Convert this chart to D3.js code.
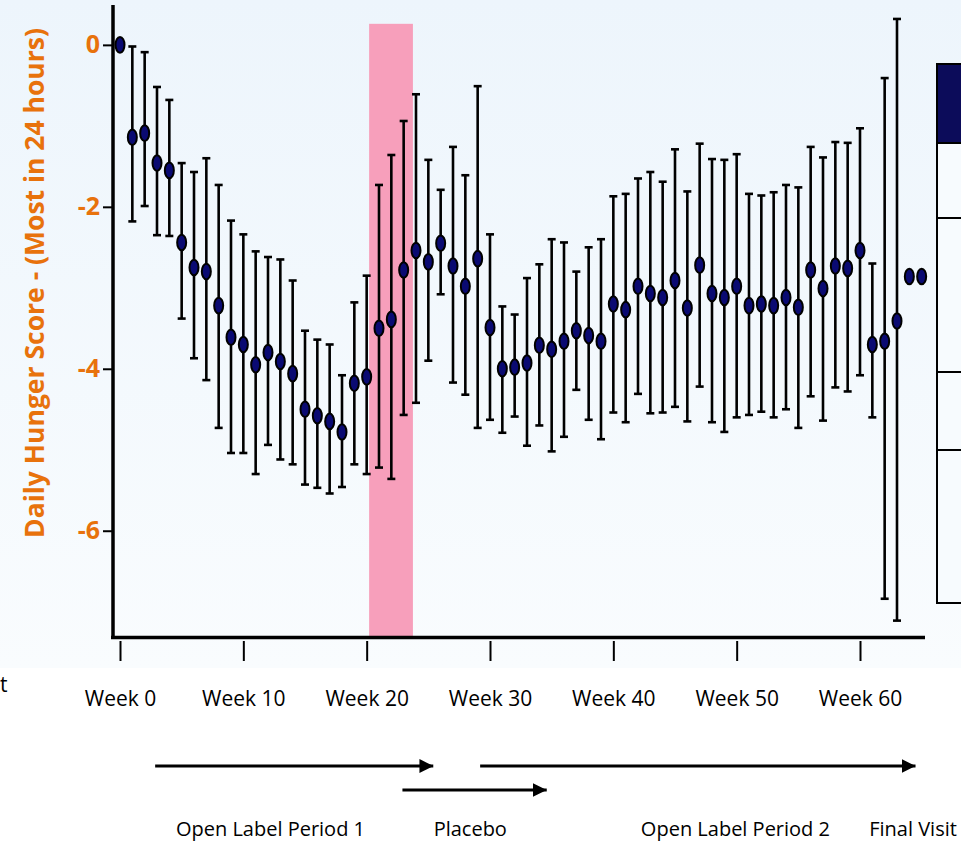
<!DOCTYPE html>
<html>
<head>
<meta charset="utf-8">
<script src="https://cdn.jsdelivr.net/npm/d3@7"></script>
<style>
  body { margin: 0; background: #ffffff; }
  svg { display: block; }
</style>
</head>
<body>
<script>
// weekly hunger score, mean with upper / lower error bar ends
let weeks = [0, 1, 2, 3, 4, 5, 6, 7, 8, 9,
  10, 11, 12, 13, 14, 15, 16, 17, 18, 19,
  20, 21, 22, 23, 24, 25, 26, 27, 28, 29,
  30, 31, 32, 33, 34, 35, 36, 37, 38, 39,
  40, 41, 42, 43, 44, 45, 46, 47, 48, 49,
  50, 51, 52, 53, 54, 55, 56, 57, 58, 59,
  60, 61, 62, 63, 64, 65]

let meanScore = [0.00, -1.14, -1.09, -1.46, -1.55, -2.44, -2.75, -2.80, -3.22, -3.61,
  -3.70, -3.95, -3.80, -3.91, -4.06, -4.50, -4.58, -4.65, -4.78, -4.18,
  -4.10, -3.50, -3.39, -2.78, -2.54, -2.68, -2.45, -2.73, -2.98, -2.64,
  -3.49, -4.00, -3.98, -3.93, -3.71, -3.76, -3.66, -3.53, -3.59, -3.66,
  -3.20, -3.27, -2.98, -3.07, -3.12, -2.91, -3.25, -2.72, -3.07, -3.12,
  -2.98, -3.22, -3.20, -3.22, -3.12, -3.24, -2.78, -3.01, -2.73, -2.76,
  -2.54, -3.70, -3.66, -3.41, -2.86, -2.86]

let upperBar = [null, -0.02, -0.09, -0.52, -0.68, -1.46, -1.57, -1.40, -1.73, -2.17,
  -2.34, -2.55, -2.62, -2.65, -2.91, -3.53, -3.64, -3.70, -4.08, -3.18,
  -2.85, -1.73, -1.36, -0.94, -0.61, -1.42, -1.79, -1.26, -1.61, -0.51,
  -2.34, -3.23, -3.33, -2.88, -2.71, -2.40, -2.44, -2.80, -2.50, -2.40,
  -1.87, -1.84, -1.65, -1.57, -1.69, -1.29, -1.81, -1.22, -1.41, -1.42,
  -1.35, -1.84, -1.86, -1.82, -1.73, -1.76, -1.26, -1.39, -1.20, -1.21,
  -1.03, -2.70, -0.41, 0.32, null, null]

let lowerBar = [null, -2.18, -1.99, -2.35, -2.36, -3.38, -3.87, -4.14, -4.73, -5.04,
  -5.04, -5.30, -4.94, -5.12, -5.18, -5.43, -5.47, -5.54, -5.46, -5.18,
  -5.30, -5.22, -5.36, -4.57, -4.42, -3.90, -3.08, -4.17, -4.32, -4.73,
  -4.63, -4.79, -4.59, -4.95, -4.70, -5.02, -4.84, -4.26, -4.63, -4.87,
  -4.54, -4.66, -4.31, -4.55, -4.54, -4.47, -4.65, -4.22, -4.66, -4.78,
  -4.60, -4.57, -4.53, -4.60, -4.50, -4.73, -4.34, -4.64, -4.23, -4.28,
  -4.08, -4.60, -6.84, -7.11, null, null]

let xTicks = [0, 10, 20, 30, 40, 50, 60]
let xTickLabels = ["Week 0", "Week 10", "Week 20", "Week 30", "Week 40", "Week 50", "Week 60"]
let yTicks = [0, -2, -4, -6]
let yTickLabels = ["0", "-2", "-4", "-6"]

// placebo window (weeks)
let placeboBand = [20.2, 23.75]

// study periods: arrow start / end week, row, and label centre week
let periodNames = ["Open Label Period 1", "Placebo", "Open Label Period 2", "Final Visit"]
let periodStart = [2.85, 22.9, 29.2, null]
let periodEnd = [25.4, 34.6, 64.5, null]
let periodRow = [0, 1, 0, null]
let periodLabelAt = [12.2, 28.4, 49.9, 64.3]

let width = 961
let height = 844
let orange = "#e8720c"
let font = "'Open Sans', sans-serif"

let svg = d3.select("body")
.append("svg")
.attr("width", width)
.attr("height", height)

let defs = svg.append("defs")
let grad = defs.append("linearGradient")
.attr("id", "bg")
.attr("x1", 0).attr("y1", 0).attr("x2", 0).attr("y2", 1)
grad.append("stop").attr("offset", "0%").attr("stop-color", "#edf5fc")
grad.append("stop").attr("offset", "100%").attr("stop-color", "#f9fcfe")

defs.append("marker")
.attr("id", "head")
.attr("viewBox", "0 0 10 10")
.attr("refX", 10).attr("refY", 5)
.attr("markerWidth", 4.6).attr("markerHeight", 4.6)
.attr("markerUnits", "strokeWidth")
.attr("orient", "auto")
.append("path")
.attr("d", "M0,0 L10,5 L0,10 Z")
.attr("fill", "#000")

svg.append("rect")
.attr("x", 0).attr("y", 0)
.attr("width", width).attr("height", 668)
.attr("fill", "url(#bg)")

let xScale = d3.scaleLinear().domain([0, 60]).range([120, 860])
let yScale = d3.scaleLinear().domain([-7.3, 0.48]).range([636, 6])

// placebo band
svg.append("rect")
.attr("x", xScale(placeboBand[0]))
.attr("y", yScale(0.26))
.attr("width", xScale(placeboBand[1]) - xScale(placeboBand[0]))
.attr("height", yScale(-7.3) - yScale(0.26))
.attr("fill", "#f79fbb")

// legend box on the right, cut by the edge
let legend = svg.append("g")
legend.append("rect")
.attr("x", 937).attr("y", 64).attr("width", 40).attr("height", 539)
.attr("fill", "#f7fbfe").attr("stroke", "#000").attr("stroke-width", 2)
legend.append("rect")
.attr("x", 937).attr("y", 64).attr("width", 40).attr("height", 79)
.attr("fill", "#0c0c5a").attr("stroke", "#000").attr("stroke-width", 2)
legend.selectAll("line.row")
.data([218, 372, 450])
.join("line")
.attr("class", "row")
.attr("x1", 937).attr("x2", 961)
.attr("y1", d => d).attr("y2", d => d)
.attr("stroke", "#000").attr("stroke-width", 2)

// y axis
let yAxis = d3.axisLeft(yScale)
.tickValues(yTicks)
.tickFormat((d, i) => yTickLabels[i])
.tickSize(10)
.tickPadding(3)

let gy = svg.append("g")
.attr("transform", "translate(113,0)")
.call(yAxis)
gy.select(".domain").remove()
gy.selectAll(".tick line").attr("stroke", "#000").attr("stroke-width", 2)
gy.selectAll(".tick text")
.attr("fill", orange)
.style("font-family", font)
.style("font-size", "25px")
.style("font-weight", "bold")

svg.append("line")
.attr("x1", 113).attr("x2", 113)
.attr("y1", 5).attr("y2", 639)
.attr("stroke", "#000").attr("stroke-width", 3.5)

svg.append("line")
.attr("x1", 111).attr("x2", 925)
.attr("y1", 637.5).attr("y2", 637.5)
.attr("stroke", "#000").attr("stroke-width", 3.5)

// x axis ticks hang below the base line with a small gap
let xAxis = d3.axisBottom(xScale)
.tickValues(xTicks)
.tickFormat((d, i) => xTickLabels[i])
.tickSize(20)
.tickPadding(30)

let gx = svg.append("g")
.attr("transform", "translate(0,641)")
.call(xAxis)
gx.select(".domain").remove()
gx.selectAll(".tick line").attr("stroke", "#000").attr("stroke-width", 2)
gx.selectAll(".tick text")
.attr("fill", "#000")
.style("font-family", font)
.style("font-size", "21px")

svg.append("text")
.attr("transform", "translate(44,283) rotate(-90)")
.attr("text-anchor", "middle")
.attr("fill", orange)
.style("font-family", font)
.style("font-size", "26.5px")
.style("font-weight", "bold")
.text("Daily Hunger Score - (Most in 24 hours)")

svg.append("text")
.attr("x", 0).attr("y", 692)
.style("font-family", font)
.style("font-size", "21px")
.text("t")

// error bars
let rows = weeks.map((w, i) => ({week: w, mean: meanScore[i], hi: upperBar[i], lo: lowerBar[i]}))
let withBars = rows.filter(d => d.hi !== null)

let bars = svg.append("g")
bars.selectAll("line.stem")
.data(withBars)
.join("line")
.attr("class", "stem")
.attr("x1", d => xScale(d.week)).attr("x2", d => xScale(d.week))
.attr("y1", d => yScale(d.hi)).attr("y2", d => yScale(d.lo))
.attr("stroke", "#000").attr("stroke-width", 2.6)

bars.selectAll("line.capHi")
.data(withBars)
.join("line")
.attr("class", "capHi")
.attr("x1", d => xScale(d.week) - 4).attr("x2", d => xScale(d.week) + 4)
.attr("y1", d => yScale(d.hi)).attr("y2", d => yScale(d.hi))
.attr("stroke", "#000").attr("stroke-width", 2.6)

bars.selectAll("line.capLo")
.data(withBars)
.join("line")
.attr("class", "capLo")
.attr("x1", d => xScale(d.week) - 4).attr("x2", d => xScale(d.week) + 4)
.attr("y1", d => yScale(d.lo)).attr("y2", d => yScale(d.lo))
.attr("stroke", "#000").attr("stroke-width", 2.6)

// mean markers
svg.append("g")
.selectAll("ellipse")
.data(rows)
.join("ellipse")
.attr("cx", d => xScale(d.week))
.attr("cy", d => yScale(d.mean))
.attr("rx", 4.5)
.attr("ry", 7.8)
.attr("fill", "#0a0a72")
.attr("stroke", "#000")
.attr("stroke-width", 2)

// period arrows and labels
let rowY = [766, 790]
let arrows = periodNames.map((n, i) => ({name: n, s: periodStart[i], e: periodEnd[i], row: periodRow[i], at: periodLabelAt[i]}))

svg.append("g")
.selectAll("line")
.data(arrows.filter(d => d.s !== null))
.join("line")
.attr("x1", d => xScale(d.s))
.attr("x2", d => xScale(d.e))
.attr("y1", d => rowY[d.row])
.attr("y2", d => rowY[d.row])
.attr("stroke", "#000")
.attr("stroke-width", 3)
.attr("marker-end", "url(#head)")

svg.append("g")
.selectAll("text")
.data(arrows)
.join("text")
.attr("x", d => xScale(d.at))
.attr("y", 836)
.attr("text-anchor", "middle")
.style("font-family", font)
.style("font-size", "20px")
.text(d => d.name)
</script>
</body>
</html>
